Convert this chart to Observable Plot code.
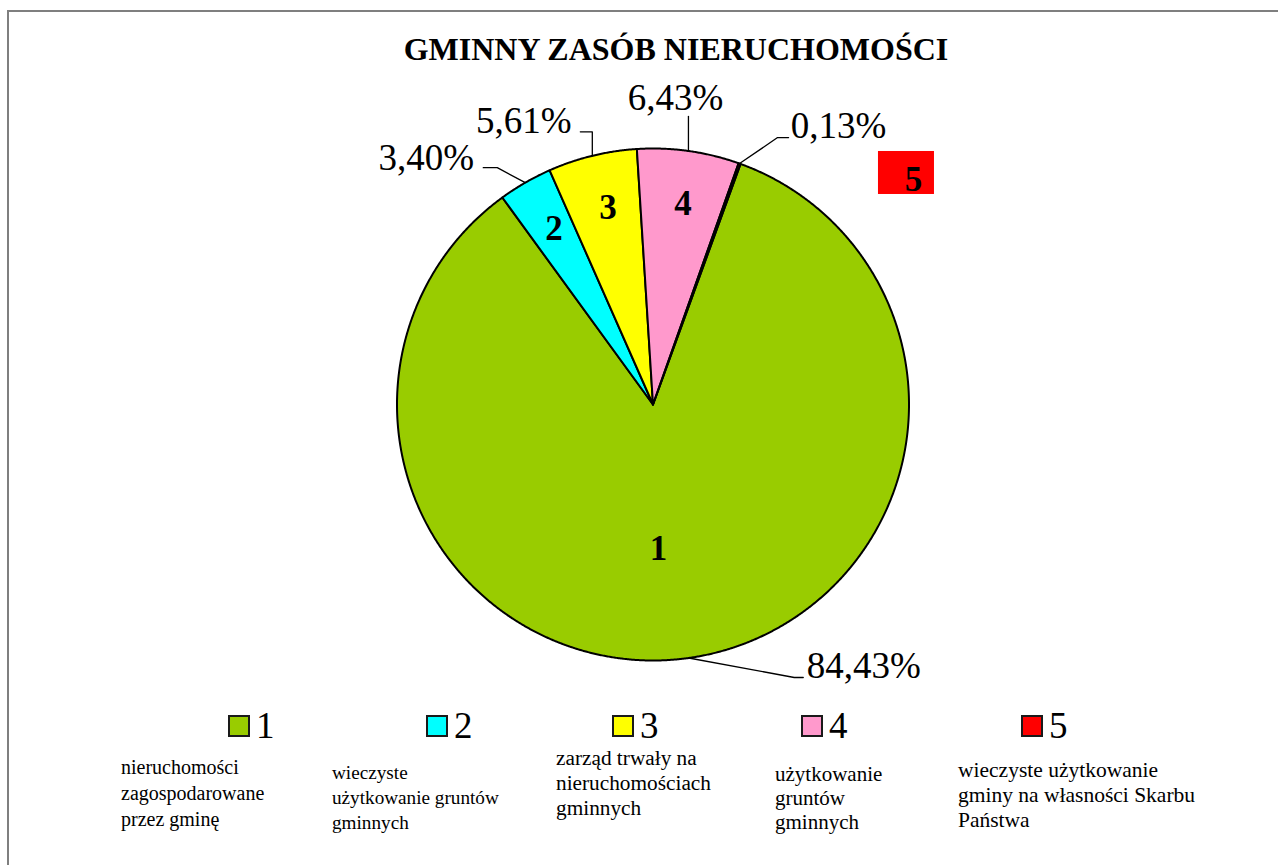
<!DOCTYPE html>
<html>
<head>
<meta charset="utf-8">
<script src="https://cdn.jsdelivr.net/npm/d3@7"></script>
<script src="https://cdn.jsdelivr.net/npm/@observablehq/plot@0.6"></script>
<style>
html, body { margin: 0; padding: 0; background: #fff; overflow: hidden; }
#wrap { position: relative; width: 1278px; height: 865px; overflow: hidden;
  font-family: "Liberation Serif", "DejaVu Serif", serif; color: #000; }
#frame { position: absolute; left: 7px; top: 10px; width: 1400px; height: 1000px;
  border-left: 2px solid #7f7f7f; border-top: 2px solid #7f7f7f; }
#chart { position: absolute; left: 0; top: 0; }
#title { position: absolute; top: 33px; left: 0; width: 1352px; text-align: center;
  font-weight: bold; font-size: 32px; line-height: 32px; white-space: nowrap; }
.lg-sq { position: absolute; top: 715px; width: 22px; height: 22px; box-sizing: border-box;
  border: 2px solid #1a1a1a; }
.lg-key { position: absolute; top: 707px; font-size: 37px; line-height: 37px; white-space: nowrap; }
.lg-desc { position: absolute; white-space: nowrap; }
</style>
</head>
<body>
<div id="wrap">
  <div id="frame"></div>
  <div id="chart"></div>
  <div id="title"></div>
  <div id="legend"></div>
</div>
<script>
// ---------- data ----------
const chartTitle = "GMINNY ZASÓB NIERUCHOMOŚCI";
const categories = ["1", "2", "3", "4", "5"];
const shares = [84.43, 3.40, 5.61, 6.43, 0.13];
const shareLabels = ["84,43%", "3,40%", "5,61%", "6,43%", "0,13%"];
const descriptions = [
  ["nieruchomości", "zagospodarowane", "przez gminę"],
  ["wieczyste", "użytkowanie gruntów", "gminnych"],
  ["zarząd trwały na", "nieruchomościach", "gminnych"],
  ["użytkowanie", "gruntów", "gminnych"],
  ["wieczyste użytkowanie", "gminy na własności Skarbu", "Państwa"]
];

// ---------- style / layout ----------
const colors = ["#99cc00", "#00ffff", "#ffff00", "#ff99cc", "#ff0000"];
const firstSliceAngle = 20; // degrees, clockwise from 12 o'clock
const cx = 652.5, cy = 404, R = 256;
const serif = "'Liberation Serif', 'DejaVu Serif', serif";
// leader lines: elbow offset from slice edge (px), then horizontal tail (px)
const leaderLayout = [
  {elbow: [105.5, 19.5], tail: 9},
  {elbow: [-28, -15], tail: -14},
  {elbow: [0, -24], tail: -12},
  {elbow: [0, -34.5], tail: 0},
  {elbow: [38, -26], tail: 11}
];
// percentage label centre offset from leader end (px)
const pctOffset = [[60.5, -11.5], [-57, -9], [-56.5, -10.5], [-13, -18], [50, -11]];
// category number labels inside slices: radius fraction and px nudge
const numLayout = [
  {r: 0.563, nudge: [-14.6, 1.3]},
  {r: 0.79, nudge: [2, 0]},
  {r: 0.79, nudge: [3, 0]},
  {r: 0.79, nudge: [2, 0]}
];
// label "5" box moved outside the pie (offset from slice edge, px), box size, text nudge
const outsideBox = {offset: [166.9, 9.4], w: 56, h: 43, text: [7, 6.5]};
// legend layout
const legendSquareX = [228, 426, 612, 801, 1021];
const legendDescX = [121, 332, 556, 775, 958];
const legendDescBaseline = [774, 779, 766, 781, 778];
const legendDescLineHeight = [26, 25, 25, 24, 25];
const legendDescFontSize = [20, 19.2, 21.3, 21, 21.5];

// ---------- helpers ----------
const pxX = px => px / R;       // px offset -> data units (x)
const pxY = py => -py / R;      // px offset -> data units (y, up)
const pt = (a, r) => ({x: r * Math.sin(a), y: r * Math.cos(a)});

const rows = categories.map((c, i) => ({cat: c, share: shares[i], label: shareLabels[i], color: colors[i], i}));
const a0 = firstSliceAngle * Math.PI / 180;
const arcs = d3.pie().sort(null).value(d => d.share).startAngle(a0).endAngle(a0 + 2 * Math.PI)(rows);

// slice polygons
const slicePolys = arcs.map(a => {
  const pts = [{x: 0, y: 0}];
  const n = Math.max(2, Math.ceil((a.endAngle - a.startAngle) / (Math.PI / 720)));
  for (let k = 0; k <= n; k++) pts.push(pt(a.startAngle + (a.endAngle - a.startAngle) * k / n, 1));
  pts.push({x: 0, y: 0});
  return {cat: a.data.cat, color: a.data.color, pts};
});

// leader lines and percentage labels
const leaderPts = [];
const pctLabels = [];
arcs.forEach((a, i) => {
  const mid = (a.startAngle + a.endAngle) / 2;
  const p0 = pt(mid, 1);
  const L = leaderLayout[i];
  const p1 = {x: p0.x + pxX(L.elbow[0]), y: p0.y + pxY(L.elbow[1])};
  const p2 = {x: p1.x + pxX(L.tail), y: p1.y};
  [p0, p1, p2].forEach(p => leaderPts.push({cat: a.data.cat, x: p.x, y: p.y}));
  pctLabels.push({label: a.data.label, x: p2.x + pxX(pctOffset[i][0]), y: p2.y + pxY(pctOffset[i][1])});
});

// number labels inside slices
const numLabels = numLayout.map((L, i) => {
  const a = arcs[i];
  const p = pt((a.startAngle + a.endAngle) / 2, L.r);
  return {cat: a.data.cat, x: p.x + pxX(L.nudge[0]), y: p.y + pxY(L.nudge[1])};
});

// outside label box for the last (tiny) slice
const last = arcs[arcs.length - 1];
const pe = pt((last.startAngle + last.endAngle) / 2, 1);
const bc = {x: pe.x + pxX(outsideBox.offset[0]), y: pe.y + pxY(outsideBox.offset[1])};
const boxData = [{
  x1: bc.x - pxX(outsideBox.w / 2), x2: bc.x + pxX(outsideBox.w / 2),
  y1: bc.y - pxX(outsideBox.h / 2), y2: bc.y + pxX(outsideBox.h / 2),
  color: last.data.color
}];
const boxText = [{cat: last.data.cat, x: bc.x + pxX(outsideBox.text[0]), y: bc.y + pxY(outsideBox.text[1])}];

const plot = Plot.plot({
  width: 1278,
  height: 865,
  marginTop: 0, marginRight: 0, marginBottom: 0, marginLeft: 0,
  style: {background: "transparent", fontFamily: serif},
  x: {domain: [-1, 1], range: [cx - R, cx + R], axis: null},
  y: {domain: [-1, 1], range: [cy + R, cy - R], axis: null},
  marks: [
    ...slicePolys.map(s => Plot.line(s.pts, {x: "x", y: "y", fill: s.color, stroke: "#000", strokeWidth: 2, strokeLinejoin: "round"})),
    Plot.line(leaderPts, {x: "x", y: "y", z: "cat", stroke: "#000", strokeWidth: 1.3}),
    Plot.text(pctLabels, {x: "x", y: "y", text: "label", fontSize: 37, fontFamily: serif, textAnchor: "middle", lineAnchor: "middle", fill: "#000"}),
    Plot.text(numLabels, {x: "x", y: "y", text: "cat", fontSize: 35, fontWeight: "bold", fontFamily: serif, textAnchor: "middle", lineAnchor: "middle", fill: "#000"}),
    Plot.rect(boxData, {x1: "x1", x2: "x2", y1: "y1", y2: "y2", fill: "color"}),
    Plot.text(boxText, {x: "x", y: "y", text: "cat", fontSize: 35, fontWeight: "bold", fontFamily: serif, textAnchor: "middle", lineAnchor: "middle", fill: "#000"})
  ]
});
document.getElementById("chart").appendChild(plot);
document.getElementById("title").textContent = chartTitle;

// legend
const legend = document.getElementById("legend");
categories.forEach((c, i) => {
  const sq = document.createElement("div");
  sq.className = "lg-sq";
  sq.style.left = legendSquareX[i] + "px";
  sq.style.background = colors[i];
  legend.appendChild(sq);
  const k = document.createElement("div");
  k.className = "lg-key";
  k.style.left = (legendSquareX[i] + 28) + "px";
  k.textContent = c;
  legend.appendChild(k);
  const lh = legendDescLineHeight[i];
  const fs = legendDescFontSize[i];
  const d = document.createElement("div");
  d.className = "lg-desc";
  d.style.left = legendDescX[i] + "px";
  d.style.fontSize = fs + "px";
  d.style.lineHeight = lh + "px";
  d.style.top = (legendDescBaseline[i] - ((lh - 1.107 * fs) / 2 + 0.891 * fs)) + "px";
  d.innerHTML = descriptions[i].map(t => t.replace(/&/g, "&amp;").replace(/</g, "&lt;")).join("<br>");
  legend.appendChild(d);
});
</script>
</body>
</html>
